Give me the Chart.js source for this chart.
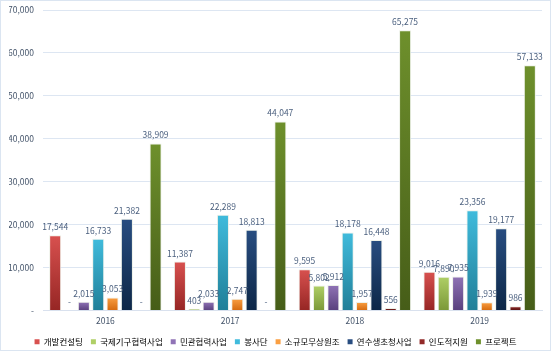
<!DOCTYPE html>
<html>
<head>
<meta charset="utf-8">
<script src="https://cdn.jsdelivr.net/npm/chart.js@4/dist/chart.umd.min.js"></script>
<style>
  body { margin: 0; background: #fff; }
  #wrap { width: 549px; height: 349px; border: 1px solid #dbe5f1; }
</style>
</head>
<body>
<div id="wrap"><canvas id="myChart" width="549" height="349"></canvas></div>
<script>
// ---------------- data ----------------
var years = ["2016", "2017", "2018", "2019"];
var seriesNames = ["개발컨설팅", "국제기구협력사업", "민관협력사업", "봉사단", "소규모무상원조", "연수생초청사업", "인도적지원", "프로젝트"];
var consulting  = [17544, 11387, 9595, 9016];
var intlOrg     = [0, 403, 5802, 7890];
var privPublic  = [2015, 2033, 5912, 7935];
var volunteers  = [16733, 22289, 18178, 23356];
var smallGrant  = [3053, 2747, 1957, 1939];
var trainees    = [21382, 18813, 16448, 19177];
var humanitarian = [0, 0, 556, 986];
var projects    = [38909, 44047, 65275, 57133];
var yTicks = [0, 10000, 20000, 30000, 40000, 50000, 60000, 70000];

// top / bottom colours of each bar gradient
var colors = [
    ["#d8514f", "#962624"],
    ["#afcf66", "#7b9838"],
    ["#9073b6", "#59407d"],
    ["#40bbdc", "#217f98"],
    ["#fa9f42", "#d56a0e"],
    ["#284d80", "#0d2747"],
    ["#922a28", "#561211"],
    ["#6e902c", "#465d18"]
];
var seriesData = [consulting, intlOrg, privPublic, volunteers, smallGrant, trainees, humanitarian, projects];
var FONT = "'Noto Sans CJK KR', sans-serif";

function fmt(v) {
    return v === 0 ? "-" : v.toLocaleString("en-US");
}

function barGradient(idx) {
    return function (ctx) {
        var chart = ctx.chart;
        if (!chart.chartArea || ctx.type !== "data") return colors[idx][1];
        var y = chart.scales.y;
        var top = y.getPixelForValue(ctx.raw);
        var bottom = y.getPixelForValue(0);
        if (bottom - top < 1) return colors[idx][1];
        var g = chart.ctx.createLinearGradient(0, top, 0, bottom);
        g.addColorStop(0, colors[idx][0]);
        g.addColorStop(1, colors[idx][1]);
        return g;
    };
}

var datasets = seriesNames.map(function (name, i) {
    return {
        label: name,
        data: seriesData[i],
        backgroundColor: barGradient(i),
        borderColor: "rgba(235,240,230,0.9)",
        borderWidth: 1,
        categoryPercentage: 0.92,
        barPercentage: 0.84
    };
});

// simple value labels above bars
var valueLabels = {
    id: "valueLabels",
    afterDatasetsDraw: function (chart) {
        var c = chart.ctx;
        c.save();
        c.font = "8.5px " + FONT;
        c.fillStyle = "#4a5f7e";
        c.textAlign = "center";
        c.textBaseline = "bottom";
        chart.data.datasets.forEach(function (ds, i) {
            chart.getDatasetMeta(i).data.forEach(function (bar, j) {
                c.fillText(fmt(ds.data[j]), bar.x, bar.y - 4);
            });
        });
        c.restore();
    }
};

new Chart(document.getElementById("myChart"), {
    type: "bar",
    data: { labels: years, datasets: datasets },
    plugins: [valueLabels],
    options: {
        responsive: false,
        animation: false,
        layout: { padding: { left: 8, right: 8, top: 9, bottom: -6 } },
        plugins: {
            tooltip: { enabled: false },
            legend: {
                position: "bottom",
                labels: {
                    boxWidth: 5,
                    boxHeight: 5,
                    padding: 8,
                    color: "#595959",
                    font: { family: FONT, size: 8.5 },
                    generateLabels: function (chart) {
                        return chart.data.datasets.map(function (ds, i) {
                            return {
                                text: ds.label,
                                fillStyle: colors[i][0],
                                strokeStyle: colors[i][0],
                                lineWidth: 0,
                                datasetIndex: i
                            };
                        });
                    }
                }
            }
        },
        scales: {
            x: {
                afterFit: function (s) { s.height = 19; },
                grid: { display: false, drawTicks: false },
                border: { color: "#d9e1ee" },
                ticks: { color: "#44546a", font: { family: FONT, size: 8.5 }, padding: 5 }
            },
            y: {
                min: 0,
                max: 70000,
                afterFit: function (s) { s.width = 34; s.paddingTop = 0; s.paddingBottom = 0; },
                afterBuildTicks: function (s) { s.ticks = yTicks.map(function (v) { return { value: v }; }); },
                grid: { color: "#dde6f2", drawTicks: false },
                border: { display: false },
                ticks: {
                    color: "#44546a",
                    padding: 9,
                    font: { family: FONT, size: 8.5 },
                    callback: function (v) { return fmt(v); }
                }
            }
        }
    }
});
</script>
</body>
</html>
